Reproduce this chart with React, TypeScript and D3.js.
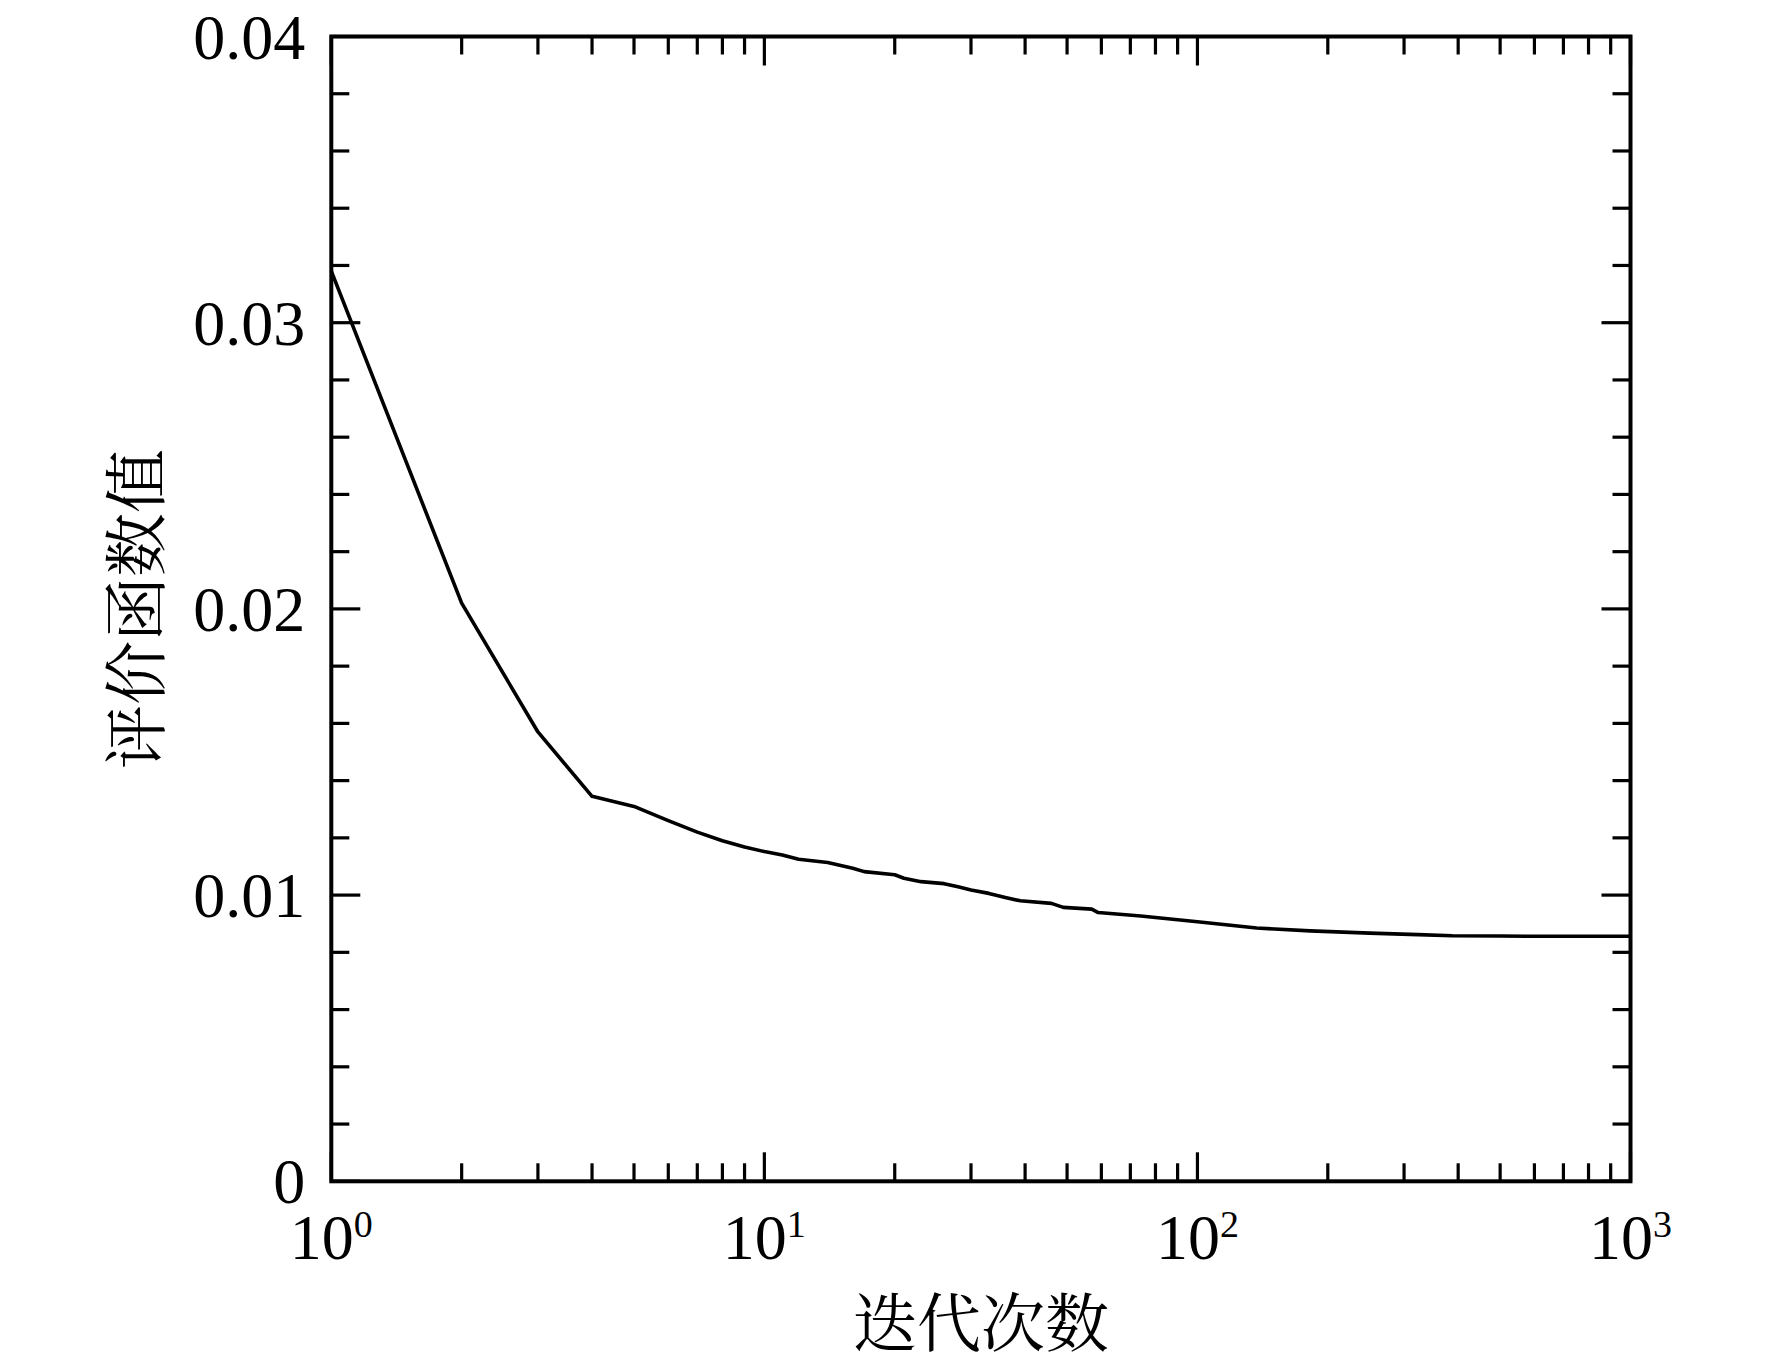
import React from "react";
import * as d3 from "d3";

const iterations = [1, 2, 3, 4, 5, 6, 7, 8, 9, 10, 11, 12, 14, 16, 17, 20, 21, 23, 26, 28, 30, 33, 36, 39, 46, 49, 57, 59, 74, 80, 100, 137, 182, 250, 323, 388, 500, 623, 1000];
const evalValues = [0.0318, 0.0202, 0.0157, 0.01345, 0.0131, 0.0126, 0.0122, 0.0119, 0.01168, 0.01152, 0.0114, 0.01125, 0.01114, 0.01094, 0.01082, 0.01071, 0.01059, 0.01047, 0.0104, 0.01029, 0.01018, 0.01006, 0.00992, 0.0098, 0.00971, 0.00957, 0.00951, 0.00939, 0.00927, 0.00922, 0.00907, 0.00885, 0.00875, 0.00867, 0.00862, 0.00858, 0.00857, 0.00856, 0.00856];
const yMajorTicks = [0, 0.01, 0.02, 0.03, 0.04];
const yTickLabels = ["0", "0.01", "0.02", "0.03", "0.04"];
const xMajorTicks = [1, 10, 100, 1000];
const xTickExponents = ["0", "1", "2", "3"];
const xTitle = "迭代次数";
const yTitle = "评价函数值";

const W = 1772;
const H = 1364;
const L = 331.3, R = 1630.5, T = 36.5, B = 1181.3;
const serif = '"Liberation Serif", "Times New Roman", serif';
const cjk = '"Noto Serif CJK SC", "Noto Sans CJK SC", serif';

export default function App() {
  const x = d3.scaleLog().domain([1, 1000]).range([L, R]);
  const y = d3.scaleLinear().domain([0, 0.04]).range([B, T]);
  const line = d3.line<number>().x((_, i) => x(iterations[i])).y((d) => y(d));

  const xAll = x.ticks();
  const yAll = d3.range(0, 21).map((i) => i * 0.002);
  const isXMajor = (v: number) => xMajorTicks.some((m) => Math.abs(m - v) < 1e-9);
  const isYMajor = (v: number) => yMajorTicks.some((m) => Math.abs(m - v) < 1e-9);
  const minorLen = 18, majorLen = 29, sw = 3.2;

  return (
    <svg width={W} height={H} style={{ position: "absolute", left: 0, top: 0, background: "#fff" }}>
      <rect x={0} y={0} width={W} height={H} fill="#fff" />
      <path d={line(evalValues) || ""} fill="none" stroke="#000" strokeWidth={3.6} strokeLinejoin="round" />
      {xAll.map((v, i) => {
        const len = isXMajor(v) ? majorLen : minorLen;
        const px = x(v);
        return (
          <g key={"xt" + i}>
            <line x1={px} x2={px} y1={B} y2={B - len} stroke="#000" strokeWidth={sw} />
            <line x1={px} x2={px} y1={T} y2={T + len} stroke="#000" strokeWidth={sw} />
          </g>
        );
      })}
      {yAll.map((v, i) => {
        const len = isYMajor(v) ? majorLen : minorLen;
        const py = y(v);
        return (
          <g key={"yt" + i}>
            <line x1={L} x2={L + len} y1={py} y2={py} stroke="#000" strokeWidth={sw} />
            <line x1={R} x2={R - len} y1={py} y2={py} stroke="#000" strokeWidth={sw} />
          </g>
        );
      })}
      <rect x={L} y={T} width={R - L} height={B - T} fill="none" stroke="#000" strokeWidth={4} />
      {yMajorTicks.map((v, i) => (
        <text key={"yl" + i} x={L - 26} y={y(v) + 22} textAnchor="end" fontFamily={serif} fontSize={64} fill="#000">
          {yTickLabels[i]}
        </text>
      ))}
      {xMajorTicks.map((v, i) => (
        <text key={"xl" + i} x={x(v)} y={1259} textAnchor="middle" fontFamily={serif} fontSize={64} fill="#000">
          10
          <tspan dx={0} dy={-22} fontSize={38}>{xTickExponents[i]}</tspan>
        </text>
      ))}
      <text x={(L + R) / 2} y={1318} textAnchor="middle" dominantBaseline="central" fontFamily={cjk} fontSize={64} fill="#000">
        {xTitle}
      </text>
      <text transform={`translate(131, ${(T + B) / 2}) rotate(-90)`} textAnchor="middle" dominantBaseline="central" fontFamily={cjk} fontSize={64} fill="#000">
        {yTitle}
      </text>
    </svg>
  );
}
